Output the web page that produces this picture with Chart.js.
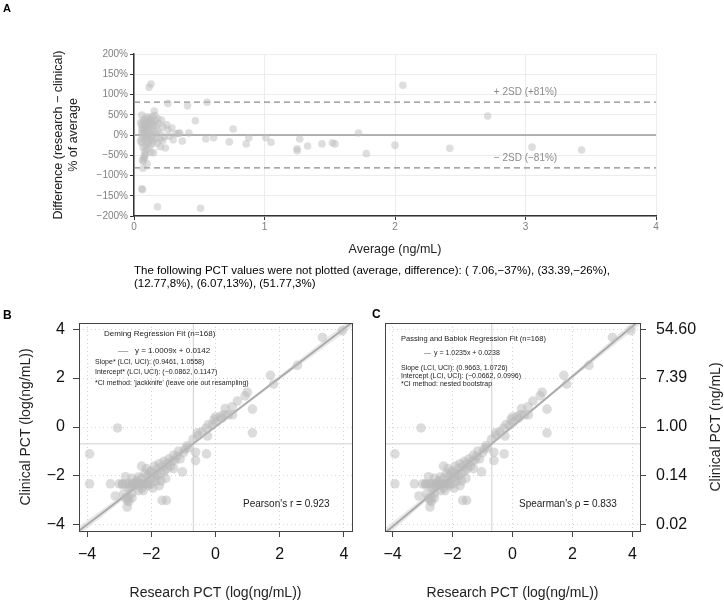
<!DOCTYPE html>
<html lang="en">
<head>
<meta charset="UTF-8" />
<title>Research vs clinical PCT</title>
<script src="https://cdn.jsdelivr.net/npm/chart.js"></script>
<style>
  html, body { margin: 0; padding: 0; background: #fff; }
  body { width: 724px; height: 600px; position: relative; overflow: hidden; }
  .panel { position: absolute; }
  #panelA { left: 0; top: 0; }
  #panelB { left: 0; top: 300px; }
  #panelC { left: 362px; top: 300px; }
</style>
</head>
<body>
<div class="panel" id="panelA"><canvas id="chartA" width="724" height="300"></canvas></div>
<div class="panel" id="panelB"><canvas id="chartB" width="362" height="300"></canvas></div>
<div class="panel" id="panelC"><canvas id="chartC" width="362" height="300"></canvas></div>
<script>
// ---- panel A : Bland-Altman (average vs % difference) ----
const avgVals = [
  0.13, 0.115, 0.26, 0.41, 0.56, 0.155, 0.47, 0.76, 0.29, 0.42,
  0.34, 0.37, 0.61, 0.55, 0.73, 0.86, 0.88, 1.01, 1.05, 1.27,
  1.25, 1.25, 1.33, 1.44, 1.52, 1.54, 1.72, 1.78, 2.06, 2.71,
  2.0, 2.42, 3.05, 3.43, 0.06, 0.065, 0.18, 0.51, 0.07, 0.1,
  0.08, 0.085, 0.15, 0.13, 0.24, 0.2, 0.06, 0.22, 0.06, 0.21,
  0.25, 0.3, 0.32,
  0.05, 0.06, 0.06, 0.07, 0.07, 0.07, 0.07, 0.08, 0.08, 0.08,
  0.08, 0.08, 0.09, 0.09, 0.09, 0.09, 0.09, 0.1, 0.1, 0.1,
  0.1, 0.1, 0.1, 0.1, 0.11, 0.11, 0.11, 0.11, 0.11, 0.12,
  0.12, 0.12, 0.12, 0.12, 0.13, 0.13, 0.13, 0.13, 0.14, 0.14,
  0.14, 0.14, 0.15, 0.15, 0.15, 0.16, 0.16, 0.16, 0.17, 0.17,
  0.18, 0.18, 0.18, 0.19, 0.2, 0.2, 0.22, 0.23, 0.26, 0.27,
  0.35, 0.06, 0.07, 0.08, 0.075, 0.09, 0.065, 0.07, 0.05, 0.06
];
const diffVals = [
  126, 118, 78, 72, 81, 59, 35, 15, 17, 5,
  4, -15, -7, -10, -17, -22, -7, -7, -18, -10,
  -34, -39, -27, -22, -19, -22, 5, -46, 123, 47,
  -25, -33, -30, -37, -133, -135, -177, -181, -82, -71,
  -57, -50, -44, -43, -32, -29, -20, -14, 49, 37,
  25, -12, 3,
  30, 25, 15, 35, 20, 10, 0, 40, 28, 18,
  5, -10, 32, 22, 12, -5, -25, 45, 30, 20,
  8, -3, -15, -35, 38, 25, 15, 0, -20, 42,
  28, 10, -8, -28, 35, 20, 5, -12, 45, 30,
  -5, -22, 25, 12, -15, 48, 35, 2, 22, -8,
  40, 10, -20, 28, 5, -10, 20, -5, 13, -3,
  5, -8, -30, -40, -55, -45, -62, -65, -15, 5
];
const meanDiff = 0;
const sdUpper = 81;
const sdLower = -81;
const aXTicks = [0, 1, 2, 3, 4];
const aXTickLabels = ["0", "1", "2", "3", "4"];
const aYTicks = [-200, -150, -100, -50, 0, 50, 100, 150, 200];
const aYTickLabels = ["\u2212200%", "\u2212150%", "\u2212100%", "\u221250%", "0%", "50%", "100%", "150%", "200%"];

// ---- panels B and C : log research vs log clinical ----
const researchLog = [
  3.95, 3.33, 2.55, 1.71, 1.81, 1.15, 1.15, 0.99, 0.92, 0.68,
  0.52, 0.53, 0.3, 0.27, 0.15, 0, 0.03, -0.1, -0.22, -0.25,
  -0.3, -0.42, -0.54, -0.56, -0.7, -0.88, -0.62, -0.62, -0.28, 0.4,
  0.2, -0.05,
  -3.05, -3.92, -3.92, -3.27, -1.03, -1.66, -1.53, -2.75, -3.12, -2.75,
  -2.86, -2.8,
  -3.0, -2.9, -2.8, -2.7, -2.6, -2.5, -2.4, -2.3, -2.2, -2.1, -2.0,
  -2.7, -2.6, -2.6, -2.7, -2.7, -2.5, -2.4, -2.3, -2.3, -2.2,
  -2.2, -2.1, -2.1, -2.0, -2.0, -1.95, -1.9, -1.9, -1.85, -1.8,
  -1.8, -1.75, -1.7, -1.7, -1.65, -1.6, -1.6, -1.55, -1.5, -1.5,
  -1.45, -1.4, -1.35, -1.3, -1.25, -1.2, -1.15, -1.1, -1.0, -0.95,
  -0.85, -2.45, -2.55, -2.35, -2.25, -2.15, -2.05, -1.9, -2.4, -2.6,
  -2.8, -2.65, -1.75, -2.9, -1.3, -2.3
];
const clinicalLog = [
  3.94, 3.66, 2.52, 2.11, 1.75, 0.73, -0.24, 1.42, 1.27, 1.06,
  0.83, 0.5, 0.75, 0.5, 0.43, 0.41, 0.2, 0.08, 0.1, -0.37,
  -0.05, -0.2, -0.35, -0.24, -0.5, -0.76, -1.03, -1.37, -1.1, 0.5,
  0.35, 0.3,
  -0.04, -1.1, -2.32, -2.32, -1.83, -3.0, -3.0, -3.27, -2.82, -3.0,
  -2.73, -2.03,
  -2.32, -2.32, -2.32, -2.32, -2.32, -2.32, -2.32, -2.32, -2.32, -2.32, -2.32,
  -2.5, -2.7, -2.9, -2.9, -3.05, -2.4, -2.6, -2.1, -2.5, -2.3,
  -1.9, -2.4, -2.0, -2.1, -1.8, -2.5, -1.9, -1.6, -2.2, -1.7,
  -2.0, -1.5, -1.9, -2.2, -1.6, -1.8, -1.4, -2.1, -1.5, -1.7,
  -1.3, -1.6, -1.4, -1.15, -1.35, -1.2, -0.98, -1.3, -1.05, -0.9,
  -0.85, -2.2, -2.3, -2.35, -2.6, -1.7, -1.85, -2.05, -2.05, -2.1,
  -2.9, -2.45, -2.4, -2.35, -1.7, -1.6
];
const logTicks = [-4, -2, 0, 2, 4];
const logTickLabels = ["\u22124", "\u22122", "0", "2", "4"];
const ngTickLabels = ["0.02", "0.14", "1.00", "7.39", "54.60"];
const cutoffLog = -0.69;   // log(0.5 ng/mL)
const axisMin = -4.25;
const axisMax = 4.25;

const demingSlope = 1.0009, demingIntercept = 0.0142;
const pbSlope = 1.0235, pbIntercept = 0.0238;
const bandX = [-4.25, -2, -0.7, 1, 4.25];
const demingBandLo = [-4.42, -2.05, -0.71, 0.98, 4.08];
const demingBandHi = [-4.06, -1.91, -0.64, 1.06, 4.46];
const pbBandLo = [-4.52, -2.07, -0.71, 1.0, 4.18];
const pbBandHi = [-4.14, -1.93, -0.64, 1.08, 4.56];

const FONT = '"Liberation Sans", Arial, Helvetica, sans-serif';

function drawText(ctx, str, x, y, size, color, align, rot, bold) {
  ctx.save();
  ctx.translate(x, y);
  if (rot) ctx.rotate(rot);
  ctx.font = (bold ? "bold " : "") + size + "px " + FONT;
  ctx.fillStyle = color;
  ctx.textAlign = align || "left";
  ctx.textBaseline = "middle";
  ctx.fillText(str, 0, 0);
  ctx.restore();
}

function hline(y, color, width, dash) {
  return {
    type: "line",
    data: [{ x: 0, y: y }, { x: 4, y: y }],
    borderColor: color, borderWidth: width, borderDash: dash || [],
    pointRadius: 0, order: 2
  };
}

// ---------- chart A ----------
new Chart(document.getElementById("chartA"), {
  type: "scatter",
  data: {
    datasets: [
      {
        data: avgVals.map((v, i) => ({ x: v, y: diffVals[i] })),
        backgroundColor: "rgba(190,190,190,0.5)",
        borderWidth: 0, pointRadius: 3.8, order: 0
      },
      hline(meanDiff, "#9a9a9a", 1.6),
      hline(sdUpper, "#8a8a8a", 1.2, [6, 4]),
      hline(sdLower, "#8a8a8a", 1.2, [6, 4])
    ]
  },
  options: {
    responsive: false,
    animation: false,
    layout: { padding: { top: 54, right: 68, left: 0, bottom: 0 } },
    plugins: { legend: { display: false }, tooltip: { enabled: false } },
    scales: {
      x: {
        type: "linear", min: 0, max: 4,
        afterFit: (s) => { s.height = 84; },
        afterBuildTicks: (s) => { s.ticks = aXTicks.map((v) => ({ value: v })); },
        ticks: { callback: (v, i) => aXTickLabels[i], color: "#7f7f7f", font: { size: 10, family: FONT }, padding: 1, maxRotation: 0 },
        grid: { color: "#ececec", tickColor: "#333", tickLength: 4 },
        border: { color: "#333", width: 1.5 }
      },
      y: {
        min: -200, max: 200,
        afterFit: (s) => { s.width = 134; },
        afterBuildTicks: (s) => { s.ticks = aYTicks.map((v) => ({ value: v })); },
        ticks: { callback: (v, i) => aYTickLabels[i], color: "#7f7f7f", font: { size: 10, family: FONT }, padding: 2 },
        grid: { color: "#ececec", tickColor: "#333", tickLength: 4 },
        border: { color: "#333", width: 1.5 }
      }
    }
  },
  plugins: [{
    id: "textsA",
    afterDraw(chart) {
      const ctx = chart.ctx;
      const ca = chart.chartArea;
      const xs = chart.scales.x, ys = chart.scales.y;
      const midY = (ca.top + ca.bottom) / 2;
      drawText(ctx, "A", 3, 9, 11, "#000", "left", 0, true);
      drawText(ctx, "Difference (research \u2212 clinical)", 59, midY, 12.5, "#222", "center", -Math.PI / 2);
      drawText(ctx, "% of average", 74, midY, 12.5, "#222", "center", -Math.PI / 2);
      drawText(ctx, "Average (ng/mL)", (ca.left + ca.right) / 2, 250, 12.5, "#222", "center");
      drawText(ctx, "The following PCT values were not plotted (average, difference): ( 7.06,\u221237%), (33.39,\u221226%),", 134, 271, 11.5, "#000", "left");
      drawText(ctx, "(12.77,8%), (6.07,13%), (51.77,3%)", 134, 284, 11.5, "#000", "left");
      drawText(ctx, "+ 2SD (+81%)", xs.getPixelForValue(3), ys.getPixelForValue(sdUpper) - 10, 10, "#8a8a8a", "center");
      drawText(ctx, "\u2212 2SD (\u221281%)", xs.getPixelForValue(3), ys.getPixelForValue(sdLower) - 10, 10, "#8a8a8a", "center");
    }
  }]
});

// ---------- charts B and C ----------
function regressionChart(canvasId, slope, intercept, bandLo, bandHi, yRight, drawExtra) {
  const pts = researchLog.map((v, i) => ({ x: v, y: clinicalLog[i] }));
  const lineCol = "#ababab";
  const gridOpts = { color: "#d4d4d4", tickColor: "#444", tickBorderDash: [], tickLength: 6 };
  const borderOpts = { display: false, dash: [1, 3] };
  return new Chart(document.getElementById(canvasId), {
    type: "scatter",
    data: {
      datasets: [
        {
          data: pts, backgroundColor: "rgba(185,185,185,0.5)",
          borderWidth: 0, pointRadius: 4.8, order: 0
        },
        {
          type: "line", data: bandX.map((v, i) => ({ x: v, y: bandLo[i] })),
          borderWidth: 0, pointRadius: 0, order: 5
        },
        {
          type: "line", data: bandX.map((v, i) => ({ x: v, y: bandHi[i] })),
          borderWidth: 0, pointRadius: 0, fill: "-1",
          backgroundColor: "rgba(200,200,200,0.4)", order: 5
        },
        {
          type: "line",
          data: [{ x: axisMin, y: slope * axisMin + intercept }, { x: axisMax, y: slope * axisMax + intercept }],
          borderColor: lineCol, borderWidth: 2, pointRadius: 0, order: 3
        },
        {
          type: "line", data: [{ x: cutoffLog, y: axisMin }, { x: cutoffLog, y: axisMax }],
          borderColor: "#cfcfcf", borderWidth: 1, pointRadius: 0, order: 4
        },
        {
          type: "line", data: [{ x: axisMin, y: cutoffLog }, { x: axisMax, y: cutoffLog }],
          borderColor: "#cfcfcf", borderWidth: 1, pointRadius: 0, order: 4
        }
      ]
    },
    options: {
      responsive: false,
      animation: false,
      layout: { padding: yRight ? { top: 23, left: 23, right: 0, bottom: 0 } : { top: 23, right: 10, left: 0, bottom: 0 } },
      plugins: { legend: { display: false }, tooltip: { enabled: false } },
      scales: {
        x: {
          type: "linear", min: axisMin, max: axisMax,
          afterFit: (s) => { s.height = 69; },
          afterBuildTicks: (s) => { s.ticks = logTicks.map((v) => ({ value: v })); },
          ticks: { callback: (v, i) => logTickLabels[i], color: "#111", font: { size: 16, family: FONT }, padding: 8, maxRotation: 0 },
          grid: gridOpts,
          border: borderOpts
        },
        y: {
          min: axisMin, max: axisMax,
          position: yRight ? "right" : "left",
          afterFit: (s) => { s.width = yRight ? 84 : 79; },
          afterBuildTicks: (s) => { s.ticks = logTicks.map((v) => ({ value: v })); },
          ticks: {
            callback: (v, i) => (yRight ? ngTickLabels[i] : logTickLabels[i]),
            color: "#111", font: { size: 16, family: FONT }, padding: yRight ? 10 : 8
          },
          grid: gridOpts,
          border: borderOpts
        }
      }
    },
    plugins: [{
      id: "frame_" + canvasId,
      afterDraw(chart) {
        const ctx = chart.ctx;
        const ca = chart.chartArea;
        ctx.save();
        ctx.strokeStyle = "#444";
        ctx.lineWidth = 1;
        ctx.strokeRect(Math.round(ca.left) + 0.5, Math.round(ca.top) + 0.5,
          Math.round(ca.right - ca.left), Math.round(ca.bottom - ca.top));
        ctx.restore();
        drawExtra(chart, ctx, ca, lineCol);
      }
    }]
  });
}

regressionChart("chartB", demingSlope, demingIntercept, demingBandLo, demingBandHi, false, (chart, ctx, ca, lineCol) => {
  const midX = (ca.left + ca.right) / 2, midY = (ca.top + ca.bottom) / 2;
  drawText(ctx, "B", 3, 16, 12, "#000", "left", 0, true);
  drawText(ctx, "Deming Regression Fit (n=168)", 104, 34, 8, "#222", "left");
  ctx.save();
  ctx.strokeStyle = lineCol; ctx.lineWidth = 1;
  ctx.beginPath(); ctx.moveTo(118, 51.5); ctx.lineTo(128, 51.5); ctx.stroke();
  ctx.restore();
  drawText(ctx, "y = 1.0009x + 0.0142", 135, 51, 8, "#222", "left");
  drawText(ctx, "Slope* (LCI, UCI): (0.9461, 1.0558)", 95, 62, 7, "#222", "left");
  drawText(ctx, "Intercept* (LCI, UCI): (\u22120.0862, 0.1147)", 95, 72.5, 7, "#222", "left");
  drawText(ctx, "*CI method: 'jackknife' (leave one out resampling)", 95, 83, 7, "#222", "left");
  drawText(ctx, "Pearson's r = 0.923", 243, 204, 10, "#222", "left");
  drawText(ctx, "Research PCT (log(ng/mL))", midX, 293, 14, "#222", "center");
  drawText(ctx, "Clinical PCT (log(ng/mL))", 26, midY, 14, "#222", "center", -Math.PI / 2);
});

regressionChart("chartC", pbSlope, pbIntercept, pbBandLo, pbBandHi, true, (chart, ctx, ca, lineCol) => {
  const midX = (ca.left + ca.right) / 2, midY = (ca.top + ca.bottom) / 2;
  drawText(ctx, "C", 10, 15, 12, "#000", "left", 0, true);
  drawText(ctx, "Passing and Bablok Regression Fit (n=168)", 39, 39, 7.5, "#222", "left");
  ctx.save();
  ctx.strokeStyle = lineCol; ctx.lineWidth = 1;
  ctx.beginPath(); ctx.moveTo(62, 53.5); ctx.lineTo(69, 53.5); ctx.stroke();
  ctx.restore();
  drawText(ctx, "y = 1.0235x + 0.0238", 72, 53, 7, "#222", "left");
  drawText(ctx, "Slope (LCI, UCI): (0.9663, 1.0726)", 39, 68, 7, "#222", "left");
  drawText(ctx, "Intercept (LCI, UCI): (\u22120.0662, 0.0996)", 39, 76, 7, "#222", "left");
  drawText(ctx, "*CI method: nested bootstrap", 39, 84, 7, "#222", "left");
  drawText(ctx, "Spearman's \u03c1 = 0.833", 157, 204, 10, "#222", "left");
  drawText(ctx, "Research PCT (log(ng/mL))", midX, 293, 14, "#222", "center");
  drawText(ctx, "Clinical PCT (ng/mL)", 354, midY, 14, "#222", "center", -Math.PI / 2);
});
</script>
</body>
</html>
